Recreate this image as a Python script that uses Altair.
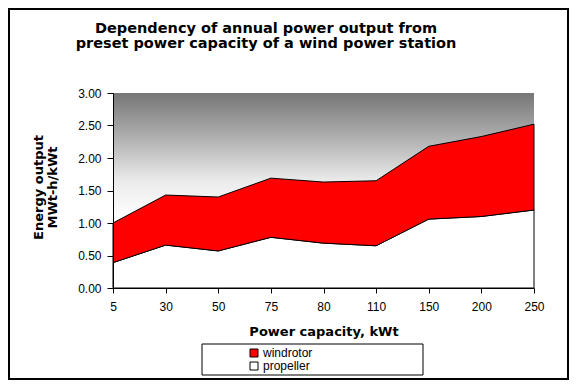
import altair as alt
import pandas as pd

# ---- data ----
capacity = ["5", "30", "50", "75", "80", "110", "150", "200", "250"]
propeller = [0.39, 0.66, 0.57, 0.78, 0.69, 0.65, 1.06, 1.10, 1.20]
windrotor = [0.61, 0.77, 0.83, 0.91, 0.94, 1.00, 1.12, 1.23, 1.32]  # stacked on top of propeller
series_names = ["windrotor", "propeller"]
series_colors = ["#FF0000", "#FFFFFF"]
title_lines = ["Dependency of annual power output from",
               "preset power capacity of a wind power station"]
y_title = ["Energy output", "MWt-h/kWt"]
x_title = "Power capacity, kWt"
y_ticks = [0, 0.5, 1, 1.5, 2, 2.5, 3]

rows = []
for c, p, w in zip(capacity, propeller, windrotor):
    rows.append({"capacity": c, "series": "propeller", "value": p, "k": 0})
    rows.append({"capacity": c, "series": "windrotor", "value": w, "k": 1})
df = pd.DataFrame(rows)
one = pd.DataFrame({"a": [0]})

W, H = 421, 195
PL, PT = 105, 85
TOTW, TOTH = 561, 372

frame = alt.Chart(one).mark_rect(filled=False, stroke="black", strokeWidth=4).encode(
    x=alt.value(-PL), x2=alt.value(TOTW - PL), y=alt.value(-PT), y2=alt.value(TOTH - PT)
)

bg = alt.Chart(one).mark_rect(
    fill=alt.Gradient(
        gradient="linear",
        stops=[
            alt.GradientStop(color="#767676", offset=0),
            alt.GradientStop(color="#b5b5b5", offset=0.25),
            alt.GradientStop(color="#ebebeb", offset=0.45),
            alt.GradientStop(color="#ffffff", offset=0.65),
            alt.GradientStop(color="#ffffff", offset=1),
        ],
        x1=0, x2=0, y1=0, y2=1,
    )
).encode(x=alt.value(0), x2=alt.value(W), y=alt.value(0), y2=alt.value(H))

area = alt.Chart(df).mark_area(stroke="black", strokeWidth=1, opacity=1).encode(
    x=alt.X(
        "capacity:O", sort=capacity,
        scale=alt.Scale(type="point", padding=0),
        axis=alt.Axis(
            title=x_title, labelAngle=0, labelFont="Liberation Sans", labelFontSize=12,
            labelColor="black", labelPadding=8, tickColor="black", tickSize=5,
            domainColor="black", grid=False, zindex=1,
            titleFont="DejaVu Sans", titleFontSize=13, titleFontWeight="bold",
            titleColor="black", titleX=W / 2, titleY=47, titleAlign="center",
            titleBaseline="alphabetic",
        ),
    ),
    y=alt.Y(
        "value:Q", stack="zero",
        scale=alt.Scale(domain=[0, 3], nice=False),
        axis=alt.Axis(
            title=y_title, values=y_ticks, format=".2f",
            labelFont="Liberation Sans", labelFontSize=12, labelColor="black",
            labelPadding=6, tickColor="black", tickSize=6, domainColor="black",
            grid=False, zindex=1,
            titleFont="DejaVu Sans", titleFontSize=13, titleFontWeight="bold",
            titleColor="black", titleAngle=270, titleX=-71, titleY=94,
            titleAlign="center", titleBaseline="alphabetic", titleLineHeight=14,
        ),
    ),
    color=alt.Color(
        "series:N",
        scale=alt.Scale(domain=series_names, range=series_colors),
        legend=alt.Legend(
            title=None, orient="none", legendX=135, legendY=254,
            symbolType="square", symbolSize=64, symbolStrokeColor="black",
            symbolStrokeWidth=1, labelFont="Liberation Sans", labelFontSize=12,
            labelColor="black", padding=0, rowPadding=1, labelOffset=3,
        ),
    ),
    order=alt.Order("k:Q"),
)

legend_box = alt.Chart(one).mark_rect(fill="white", stroke="black", strokeWidth=1).encode(
    x=alt.value(89), x2=alt.value(310), y=alt.value(251), y2=alt.value(282)
)

title = alt.Chart(one).mark_text(
    text=title_lines, font="DejaVu Sans", fontWeight="bold", fontSize=14.5,
    align="center", baseline="alphabetic", lineHeight=15.5, color="black",
).encode(x=alt.value(153), y=alt.value(-60.5))

chart = alt.layer(frame, bg, area, legend_box, title).properties(
    width=W, height=H,
    padding={"left": PL, "top": PT, "right": TOTW - PL - W, "bottom": TOTH - PT - H},
    autosize=alt.AutoSizeParams(type="none"),
    background="white",
).configure_view(strokeWidth=0)

chart.save("out.html", embed_options={"renderer": "svg", "actions": False})
